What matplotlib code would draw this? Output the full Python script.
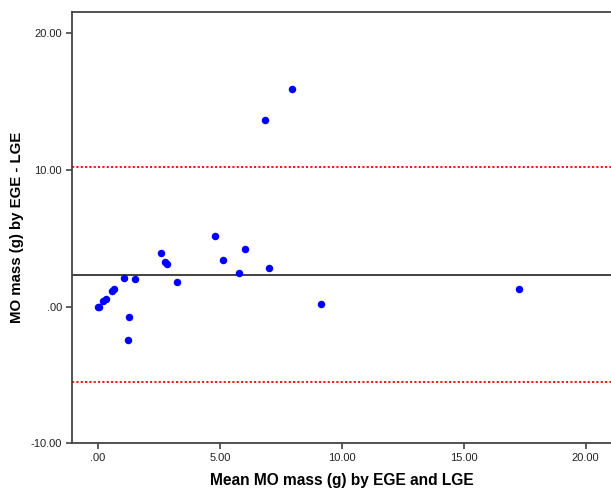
import matplotlib
matplotlib.use("Agg")
import matplotlib.pyplot as plt

# Bland-Altman data: mean of the two methods (x) and difference EGE - LGE (y)
mean_mass = [0.00, 0.03, 0.22, 0.31, 0.59, 0.67, 1.08, 1.52, 1.27, 1.22, 2.58,
             2.75, 2.84, 3.24, 4.80, 5.13, 6.04, 5.77, 6.85, 7.97, 7.00, 9.16,
             17.26]
diff_mass = [0.00, 0.00, 0.44, 0.59, 1.17, 1.29, 2.12, 2.05, -0.73, -2.44, 3.90,
             3.25, 3.15, 1.81, 5.20, 3.39, 4.22, 2.46, 13.66, 15.90, 2.81, 0.22,
             1.27]

mean_diff = 2.34
upper_loa = 10.20
lower_loa = -5.52

x_ticks = [0, 5, 10, 15, 20]
x_labels = [".00", "5.00", "10.00", "15.00", "20.00"]
y_ticks = [-10, 0, 10, 20]
y_labels = ["-10.00", ".00", "10.00", "20.00"]

plt.rcParams['font.family'] = ['Liberation Sans', 'DejaVu Sans']

fig = plt.figure(figsize=(6.11, 4.91), dpi=100)
ax = fig.add_axes([0.1173, 0.0971, 0.8827, 0.8785])

ax.axhline(mean_diff, color="#333333", lw=1.3, zorder=1)
ax.axhline(upper_loa, color="red", lw=1.3, ls=(0, (1.2, 1.2)), zorder=1)
ax.axhline(lower_loa, color="red", lw=1.3, ls=(0, (1.2, 1.2)), zorder=1)

ax.plot(mean_mass, diff_mass, "o", color="#0000ff", markersize=5.4,
        markeredgewidth=0, zorder=3)

ax.set_xlim(-1.08, 21.04)
ax.set_ylim(-10, 21.56)

ax.set_xticks(x_ticks)
ax.set_xticklabels(x_labels)
ax.set_yticks(y_ticks)
ax.set_yticklabels(y_labels)
ax.tick_params(direction="out", length=4, width=1.2, color="#444444",
               labelsize=8, labelcolor="#222222", pad=3)

for side in ["left", "bottom", "top"]:
    ax.spines[side].set_color("#444444")
    ax.spines[side].set_linewidth(1.3)
ax.spines["right"].set_visible(False)

ax.set_xlabel("Mean MO mass (g) by EGE and LGE", fontsize=11.2,
              fontweight="bold", labelpad=7)
ax.set_ylabel("MO mass (g) by EGE - LGE", fontsize=10.8,
              fontweight="bold", labelpad=5)

fig.savefig("out.png", dpi=100)
